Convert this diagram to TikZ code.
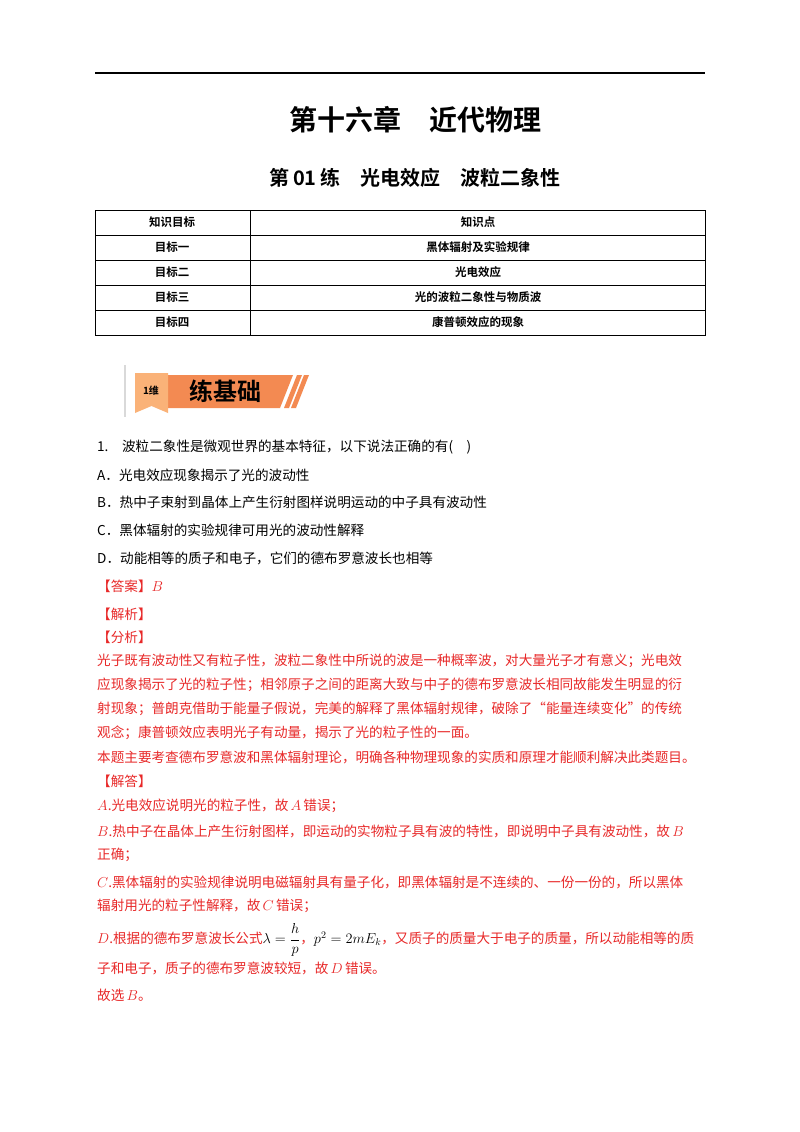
\documentclass[tikz,border=0pt]{standalone}
\usepackage{fontspec}
\usepackage{amsmath}
\newfontfamily\cjk{Noto Sans CJK SC}
\newfontfamily\cjkb{Noto Sans CJK SC Bold}
\definecolor{ansred}{RGB}{232,40,40}
\definecolor{bannerO}{RGB}{243,138,82}
\definecolor{bannerL}{RGB}{250,178,120}
\newcommand{\itl}[1]{$#1$}
\tikzset{
 body/.style={anchor=west,inner sep=0pt,font=\cjk\fontsize{13.6}{14}\selectfont},
 red/.style={body,text=ansred},
 cell/.style={inner sep=0pt,font=\cjkb\fontsize{11.5}{12}\selectfont},
}
\begin{document}
\begin{tikzpicture}[x=1pt,y=-1pt]
\useasboundingbox[fill=white] (0,0) rectangle (800,1132);
\draw[line width=1pt] (95,73) -- (705,73);
\node[inner sep=0pt,font=\cjkb\fontsize{28}{30}\selectfont] (t1) at (415,120) {第十六章\quad 近代物理};
\node[inner sep=0pt,font=\cjkb\fontsize{20}{22}\selectfont] (t2) at (415,178) {第\,01\,练\quad 光电效应\quad 波粒二象性};
% table
\draw[line width=0.6pt] (95,210) rectangle (705,335);
\foreach \y in {235,260,285,310} \draw[line width=0.6pt] (95,\y) -- (705,\y);
\draw[line width=0.6pt] (250,210) -- (250,335);
\node[cell] (c11) at (172,222.5) {知识目标};
\node[cell] (c12) at (478,222.5) {知识点};
\node[cell] (c21) at (172,247.5) {目标一};
\node[cell] (c22) at (478,247.5) {黑体辐射及实验规律};
\node[cell] (c31) at (172,272.5) {目标二};
\node[cell] (c32) at (478,272.5) {光电效应};
\node[cell] (c41) at (172,297.5) {目标三};
\node[cell] (c42) at (478,297.5) {光的波粒二象性与物质波};
\node[cell] (c51) at (172,322.5) {目标四};
\node[cell] (c52) at (478,322.5) {康普顿效应的现象};
% banner
\draw[line width=1.2pt,black!15] (125,365) -- (125,417);
\fill[bannerO] (165,375) -- (293,375) -- (280,408) -- (165,408) -- cycle;
\fill[bannerO] (297,375) -- (302,375) -- (289,408) -- (284,408) -- cycle;
\fill[bannerO] (304,375) -- (309,375) -- (296,408) -- (291,408) -- cycle;
\fill[bannerL] (135,373) -- (168,373) -- (168,413) -- (151.5,406) -- (135,413) -- cycle;
\node[inner sep=0pt,font=\cjkb\fontsize{10}{10}\selectfont] (b1) at (151,391) {1维};
\node[inner sep=0pt,font=\cjkb\fontsize{24}{24}\selectfont] (b2) at (225,391) {练基础};
% question
\node[body] (q) at (97,447) {1.\quad 波粒二象性是微观世界的基本特征，以下说法正确的有(\quad)};
\node[body] (qa) at (97,475) {A．光电效应现象揭示了光的波动性};
\node[body] (qb) at (97,502) {B．热中子束射到晶体上产生衍射图样说明运动的中子具有波动性};
\node[body] (qc) at (97,530) {C．黑体辐射的实验规律可用光的波动性解释};
\node[body] (qd) at (97,558) {D．动能相等的质子和电子，它们的德布罗意波长也相等};
\node[red] (ans) at (97,586) {【答案】\itl{B}};
\node[red] (jx) at (97,614) {【解析】};
\node[red] (fx) at (97,637) {【分析】};
\node[red] (p1) at (97,661) {光子既有波动性又有粒子性，波粒二象性中所说的波是一种概率波，对大量光子才有意义；光电效};
\node[red] (p2) at (97,685) {应现象揭示了光的粒子性；相邻原子之间的距离大致与中子的德布罗意波长相同故能发生明显的衍};
\node[red] (p3) at (97,709) {射现象；普朗克借助于能量子假说，完美的解释了黑体辐射规律，破除了“能量连续变化”的传统};
\node[red] (p4) at (97,733) {观念；康普顿效应表明光子有动量，揭示了光的粒子性的一面。};
\node[red] (p5) at (97,757) {本题主要考查德布罗意波和黑体辐射理论，明确各种物理现象的实质和原理才能顺利解决此类题目。};
\node[red] (jd) at (97,781) {【解答】};
\node[red] (s1) at (97,806) {\itl{A}.光电效应说明光的粒子性，故\,\itl{A}\,错误；};
\node[red] (s2) at (97,831) {\itl{B}.热中子在晶体上产生衍射图样，即运动的实物粒子具有波的特性，即说明中子具有波动性，故\,\itl{B}};
\node[red] (s3) at (97,855) {正确；};
\node[red] (s4) at (97,882) {\itl{C}.黑体辐射的实验规律说明电磁辐射具有量子化，即黑体辐射是不连续的、一份一份的，所以黑体};
\node[red] (s5) at (97,906) {辐射用光的粒子性解释，故\,\itl{C}\,错误；};
\node[red] (s6) at (97,940) {\itl{D}.根据的德布罗意波长公式{\color{black}$\lambda=\dfrac{h}{p}$}，{\color{black}$p^2=2mE_k$}，又质子的质量大于电子的质量，所以动能相等的质};
\node[red] (s7) at (97,968) {子和电子，质子的德布罗意波较短，故\,\itl{D}\,错误。};
\node[red] (s8) at (97,995) {故选\,\itl{B}。};
\end{tikzpicture}
\end{document}
